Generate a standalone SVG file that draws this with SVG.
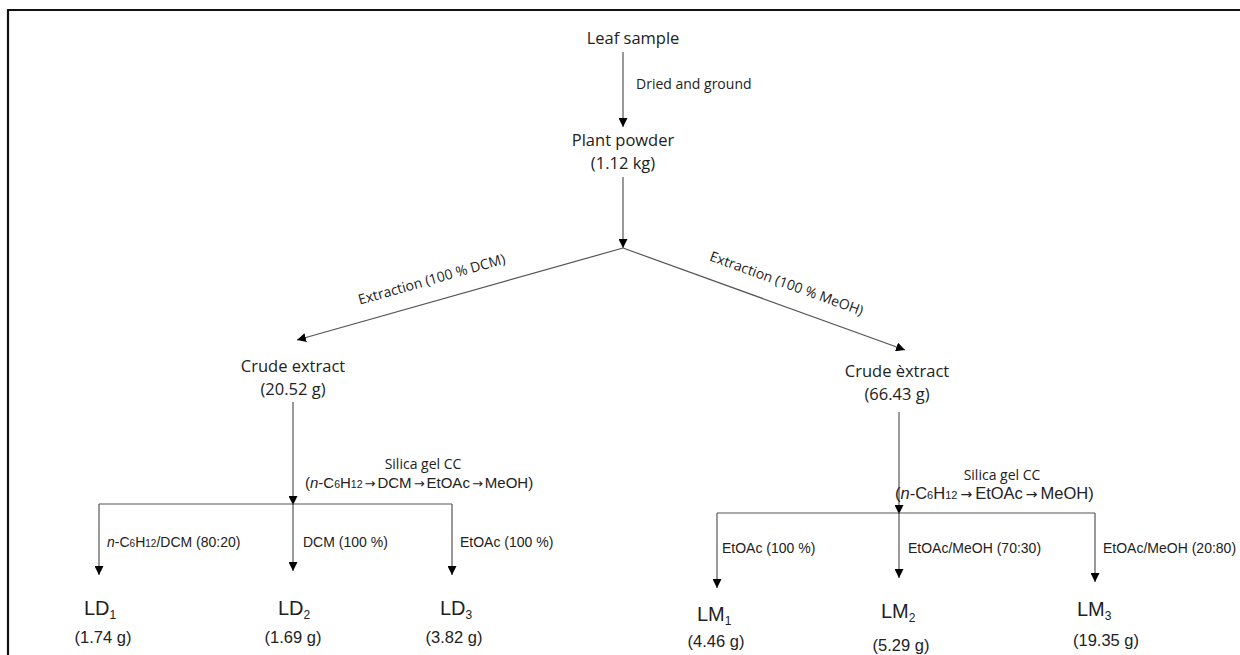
<svg xmlns="http://www.w3.org/2000/svg" width="1240" height="655" viewBox="0 0 1240 655">
<defs>
<marker id="ah" viewBox="0 0 10 10" refX="10" refY="5" markerWidth="9" markerHeight="9" markerUnits="userSpaceOnUse" orient="auto">
<path d="M0,0 L10,5 L0,10 Z" fill="#000"/>
</marker>
</defs>
<style>
.c{font-family:"Open Sans","Noto Sans",sans-serif;fill:#222;}
.m{font-size:16.5px;}
.s{font-size:14px;}
.a{font-family:"Liberation Sans",Arial,sans-serif;fill:#222;}
.al{font-size:14px;}
.ab{font-size:20px;}
.aw{font-size:16.5px;}
.arw{font-family:"DejaVu Sans",sans-serif;}
.ln{stroke:#555;stroke-width:1.2;fill:none;}
.ar{stroke:#555;stroke-width:1.2;fill:none;marker-end:url(#ah);}
</style>
<rect width="1240" height="655" fill="#fff"/>
<path d="M8,655 L8,10 L1240,10" stroke="#111" stroke-width="2.2" fill="none"/>

<g id="connectors">
<line class="ar" x1="623" y1="52" x2="623" y2="127"/>
<line class="ar" x1="623" y1="177" x2="623" y2="248"/>
<line class="ar" x1="623" y1="248" x2="297" y2="340"/>
<line class="ar" x1="623" y1="248" x2="905" y2="350"/>
<line class="ar" x1="293" y1="402" x2="293" y2="505"/>
<path class="ln" d="M99,504 L452,504"/>
<line class="ar" x1="99" y1="504" x2="99" y2="575"/>
<line class="ar" x1="293" y1="504" x2="293" y2="571"/>
<line class="ar" x1="452" y1="504" x2="452" y2="575"/>
<line class="ar" x1="899" y1="412" x2="899" y2="514"/>
<path class="ln" d="M717,513 L1095,513"/>
<line class="ar" x1="717" y1="513" x2="717" y2="588"/>
<line class="ar" x1="899" y1="513" x2="899" y2="578"/>
<line class="ar" x1="1095" y1="513" x2="1095" y2="582"/>
</g>

<g id="edge-labels">
<text class="c s" x="636" y="89">Dried and ground</text>
<text class="c s" x="433" y="284" text-anchor="middle" transform="rotate(-15.9 433 284)">Extraction (100 % DCM)</text>
<text class="c s" x="785" y="288" text-anchor="middle" transform="rotate(20 785 288)">Extraction (100 % MeOH)</text>
<text class="c s" x="423" y="469" text-anchor="middle">Silica gel CC</text>
<text class="a" x="305" y="488" style="font-size:15px">(<tspan font-style="italic">n</tspan>-C<tspan style="font-size:10.5px">6</tspan>H<tspan style="font-size:10.5px">12</tspan><tspan class="arw" dx="2" style="font-size:13px">→</tspan><tspan dx="2">DCM</tspan><tspan class="arw" dx="2" style="font-size:13px">→</tspan><tspan dx="2">EtOAc</tspan><tspan class="arw" dx="2" style="font-size:13px">→</tspan><tspan dx="2">MeOH)</tspan></text>
<text class="c s" x="1002" y="480" text-anchor="middle">Silica gel CC</text>
<text class="a" x="895" y="499" style="font-size:16.5px">(<tspan font-style="italic">n</tspan>-C<tspan style="font-size:11px">6</tspan>H<tspan style="font-size:11px">12</tspan><tspan class="arw" dx="3" style="font-size:14px">→</tspan><tspan dx="3">EtOAc</tspan><tspan class="arw" dx="3" style="font-size:14px">→</tspan><tspan dx="3">MeOH)</tspan></text>
<text class="a al" x="107" y="547"><tspan font-style="italic">n</tspan>-C<tspan font-size="10">6</tspan>H<tspan font-size="10">12</tspan>/DCM (80:20)</text>
<text class="a al" x="303" y="547">DCM (100 %)</text>
<text class="a al" x="460" y="547">EtOAc (100 %)</text>
<text class="a al" x="722" y="553">EtOAc (100 %)</text>
<text class="a al" x="908" y="553">EtOAc/MeOH (70:30)</text>
<text class="a al" x="1103" y="553">EtOAc/MeOH (20:80)</text>
</g>

<g id="leaf-sample"><text class="c m" x="633" y="44" text-anchor="middle">Leaf sample</text></g>
<g id="plant-powder">
<text class="c m" x="623" y="146" text-anchor="middle">Plant powder</text>
<text class="c m" x="623" y="169" text-anchor="middle">(1.12 kg)</text>
</g>
<g id="crude-dcm">
<text class="c m" x="293" y="372" text-anchor="middle">Crude extract</text>
<text class="c m" x="293" y="395" text-anchor="middle">(20.52 g)</text>
</g>
<g id="crude-meoh">
<text class="c m" x="897" y="377" text-anchor="middle">Crude èxtract</text>
<text class="c m" x="897" y="400" text-anchor="middle">(66.43 g)</text>
</g>
<g id="LD1">
<text class="a ab" x="84" y="615">LD<tspan font-size="12" dy="4">1</tspan></text>
<text class="a aw" x="103" y="643" text-anchor="middle">(1.74 g)</text>
</g>
<g id="LD2">
<text class="a ab" x="278" y="615">LD<tspan font-size="12" dy="4">2</tspan></text>
<text class="a aw" x="293" y="643" text-anchor="middle">(1.69 g)</text>
</g>
<g id="LD3">
<text class="a ab" x="440" y="615">LD<tspan font-size="12" dy="4">3</tspan></text>
<text class="a aw" x="454" y="643" text-anchor="middle">(3.82 g)</text>
</g>
<g id="LM1">
<text class="a ab" x="697" y="621">LM<tspan font-size="12" dy="4">1</tspan></text>
<text class="a aw" x="716" y="647" text-anchor="middle">(4.46 g)</text>
</g>
<g id="LM2">
<text class="a ab" x="881" y="618">LM<tspan font-size="12" dy="4">2</tspan></text>
<text class="a aw" x="901" y="651" text-anchor="middle">(5.29 g)</text>
</g>
<g id="LM3">
<text class="a ab" x="1077" y="616">LM<tspan font-size="12" dy="4">3</tspan></text>
<text class="a aw" x="1106" y="646" text-anchor="middle">(19.35 g)</text>
</g>
</svg>
